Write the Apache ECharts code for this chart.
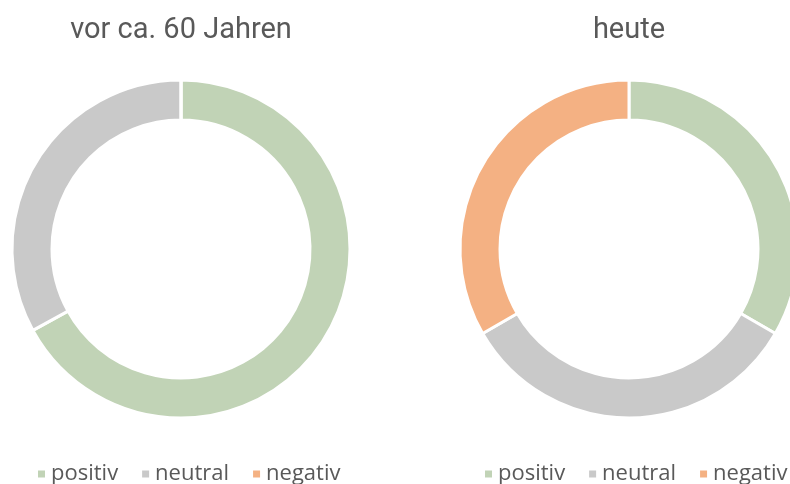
<!DOCTYPE html>
<html>
<head>
<meta charset="utf-8">
<script src="https://cdn.jsdelivr.net/npm/echarts@6/dist/echarts.min.js"></script>
<style>
  html, body { margin: 0; padding: 0; background: #fff; }
  #chart { width: 790px; height: 484px; }
</style>
</head>
<body>
<div id="chart"></div>
<script>
var categories = ['positiv', 'neutral', 'negativ'];
var colors = ['#C1D3B6', '#C9C9C9', '#F4B183'];
var titles = ['vor ca. 60 Jahren', 'heute'];
var valuesThen = [67, 33, 0];
var valuesNow = [33, 33, 33];

var myChart = echarts.init(document.getElementById('chart'));

function pieData(vals) {
  return categories.map(function (c, i) {
    return { name: c, value: vals[i], itemStyle: { color: colors[i] } };
  });
}

var textGrey = '#595959';

function legendAt(x) {
  return { data: categories, left: x, top: 463, width: 340, padding: 0,
    icon: 'rect', itemWidth: 9, itemHeight: 9, itemGap: 22,
    selectedMode: false,
    textStyle: { fontFamily: 'Open Sans', fontSize: 22, color: textGrey } };
}

var option = {
  animation: false,
  title: [
    { text: titles[0], left: 176, top: 11, textAlign: 'center',
      textStyle: { fontFamily: 'Roboto', fontSize: 29, fontWeight: 'normal', color: textGrey } },
    { text: titles[1], left: 624, top: 11, textAlign: 'center',
      textStyle: { fontFamily: 'Roboto', fontSize: 29, fontWeight: 'normal', color: textGrey } }
  ],
  legend: [legendAt(36), legendAt(483)],
  series: [
    {
      type: 'pie', center: [181, 249], radius: [129, 169],
      startAngle: 90, clockwise: true, silent: true,
      label: { show: false }, labelLine: { show: false },
      itemStyle: { borderColor: '#fff', borderWidth: 3 },
      data: pieData(valuesThen)
    },
    {
      type: 'pie', center: [629, 249], radius: [129, 169],
      startAngle: 90, clockwise: true, silent: true,
      label: { show: false }, labelLine: { show: false },
      itemStyle: { borderColor: '#fff', borderWidth: 3 },
      data: pieData(valuesNow)
    }
  ]
};

myChart.setOption(option);
</script>
</body>
</html>
